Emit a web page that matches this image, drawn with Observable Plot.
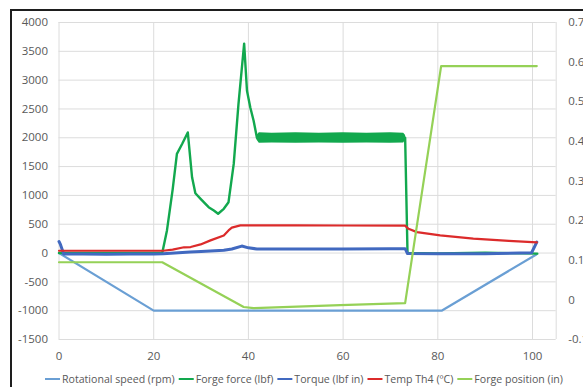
<!DOCTYPE html>
<html><head><meta charset="utf-8">
<script src="https://cdn.jsdelivr.net/npm/d3@7"></script>
<script src="https://cdn.jsdelivr.net/npm/@observablehq/plot@0.6"></script>
<style>
body{margin:0;background:#fff;width:583px;height:387px;overflow:hidden;position:relative;font-family:"Open Sans",sans-serif;}
#frame{position:absolute;left:10px;top:9px;width:700px;height:500px;border-left:2px solid #1e1e1e;border-top:2px solid #1e1e1e;pointer-events:none;box-sizing:border-box;}
svg{display:block;}
</style></head><body>
<div id="chart"></div>
<div id="legend"></div>
<div id="frame"></div>
<script>
// ---- data ----
const xTicks = [0, 20, 40, 60, 80, 100];
const leftTicks = [-1500, -1000, -500, 0, 500, 1000, 1500, 2000, 2500, 3000, 3500, 4000];
const rightTicks = [-0.1, 0, 0.1, 0.2, 0.3, 0.4, 0.5, 0.6, 0.7];

const seriesNames = ["Rotational speed (rpm)", "Forge force (lbf)", "Torque (lbf in)", "Temp Th4 (ºC)", "Forge position (in)"];
const seriesColors = ["#6a9fd4", "#12a84e", "#4169c0", "#dc2b2b", "#95d157"];

const speedX = [0, 20, 80.8, 100.8];
const speedY = [0, -1000, -1000, -25];

const forceX = [0, 10, 21.8, 22.8, 24, 24.9, 26, 27.2, 28.1, 28.8, 29.9, 31.6, 32.7, 33.6, 34.8, 35.8, 36.9, 37.9, 39.1, 39.7, 40.4, 41.1, 41.8, 50, 60, 73.1, 73.6, 80, 90, 101];
const forceY = [0, 0, 0, 393, 1100, 1720, 1893, 2093, 1315, 1038, 941, 796, 739, 682, 768, 882, 1547, 2585, 3633, 2815, 2526, 2296, 2000, 2000, 2000, 2000, 0, -5, 5, -10];
// envelope of the oscillating plateau of the forge force
const forceBandX = [41.8, 42.3, 45, 50, 55, 60, 65, 70, 72.8, 73.2];
const forceBandLo = [1960, 1905, 1910, 1905, 1910, 1905, 1910, 1905, 1910, 1960];
const forceBandHi = [2040, 2085, 2080, 2085, 2080, 2085, 2080, 2085, 2080, 2040];

const torqueX = [0, 0.3, 1, 5, 10, 15, 20, 22, 27.7, 30, 34.8, 36.5, 38.6, 40, 41.8, 50, 60, 70, 73.1, 73.6, 80, 90, 99.8, 100.9];
const torqueY = [200, 150, -15, -15, -20, -15, -15, -12, 17, 25, 47, 70, 121, 90, 70, 72, 72, 75, 76, -10, -12, -12, 5, 190];

const tempX = [0, 22, 24, 26.4, 27.8, 29.9, 32, 34.8, 35.8, 36.5, 38.3, 50, 60, 73.1, 73.8, 75.6, 80.5, 87.5, 95, 100.9];
const tempY = [40, 40, 60, 100, 104, 150, 220, 306, 393, 440, 480, 480, 478, 475, 420, 363, 306, 249, 210, 185];

const posX = [0, 21.8, 39, 41.1, 59.4, 73.1, 80.7, 100.9];
const posY = [0.095, 0.095, -0.018, -0.021, -0.013, -0.008, 0.59, 0.59];

// ---- build tables ----
const leftMin = -1500, leftMax = 4000, rightMin = -0.1, rightMax = 0.7;
const toLeft = p => leftMin + (p - rightMin) / (rightMax - rightMin) * (leftMax - leftMin);
const toRight = v => rightMin + (v - leftMin) / (leftMax - leftMin) * (rightMax - rightMin);

const rows = (name, xs, ys, f = d => d) => xs.map((x, i) => ({series: name, x, y: f(ys[i])}));
const speedRows = rows(seriesNames[0], speedX, speedY);
const forceRows = rows(seriesNames[1], forceX, forceY);
const torqueRows = rows(seriesNames[2], torqueX, torqueY);
const tempRows = rows(seriesNames[3], tempX, tempY);
const posRows = rows(seriesNames[4], posX, posY, toLeft);
const bandRows = forceBandX.map((x, i) => ({x, lo: forceBandLo[i], hi: forceBandHi[i]}));

const gridColor = "#dcdcdc";
const chart = Plot.plot({
  width: 583, height: 365,
  marginLeft: 58.5, marginRight: 27.3, marginTop: 22, marginBottom: 26,
  x: {domain: [0, 105]},
  y: {domain: [leftMin, leftMax]},
  style: {fontFamily: "'Open Sans', sans-serif", fontSize: "11.5px", color: "#595959", background: "white"},
  marks: [
    Plot.gridY(leftTicks, {stroke: gridColor, strokeOpacity: 1}),
    Plot.gridX(xTicks, {stroke: gridColor, strokeOpacity: 1}),
    Plot.ruleX([105], {stroke: gridColor}),
    Plot.axisY(leftTicks, {anchor: "left", tickSize: 0, tickPadding: 11, tickFormat: d => String(d), label: null}),
    Plot.axisY(rightTicks.map(toLeft), {anchor: "right", tickSize: 0, tickPadding: 12, tickFormat: d => String(+toRight(d).toFixed(1)), label: null}),
    Plot.axisX(xTicks, {tickSize: 0, tickPadding: 12, tickFormat: d => String(d), label: null}),
    Plot.line(speedRows, {x: "x", y: "y", stroke: seriesColors[0], strokeWidth: 2.2}),
    Plot.areaY(bandRows, {x: "x", y1: "lo", y2: "hi", fill: seriesColors[1], curve: "linear"}),
    Plot.line(forceRows, {x: "x", y: "y", stroke: seriesColors[1], strokeWidth: 2.4}),
    Plot.line(torqueRows, {x: "x", y: "y", stroke: seriesColors[2], strokeWidth: 3}),
    Plot.line(tempRows, {x: "x", y: "y", stroke: seriesColors[3], strokeWidth: 2.2}),
    Plot.line(posRows, {x: "x", y: "y", stroke: seriesColors[4], strokeWidth: 2.2})
  ]
});
document.getElementById("chart").appendChild(chart);

// ---- legend ----
const lg = d3.select("#legend").append("svg").attr("width", 583).attr("height", 22);
const fs = 11.5, sw = 15, gapSw = 2, gapItem = 4, startX = 45, endX = 563;
const texts = seriesNames.map(n => lg.append("text").attr("font-family", "'Open Sans', sans-serif").attr("font-size", fs).attr("fill", "#595959").attr("y", 14).attr("dy", "0.35em").text(n));
const natural = texts.map(t => t.node().getComputedTextLength());
const avail = (endX - startX) - seriesNames.length * (sw + gapSw) - (seriesNames.length - 1) * gapItem;
const k = Math.min(1, avail / d3.sum(natural));
let cx = startX;
seriesNames.forEach((n, i) => {
  lg.append("line").attr("x1", cx).attr("x2", cx + sw).attr("y1", 14).attr("y2", 14).attr("stroke", seriesColors[i]).attr("stroke-width", 2);
  cx += sw + gapSw;
  const w = natural[i] * k;
  texts[i].attr("x", cx).attr("textLength", w).attr("lengthAdjust", "spacingAndGlyphs");
  cx += w + gapItem;
});
</script>
</body></html>
